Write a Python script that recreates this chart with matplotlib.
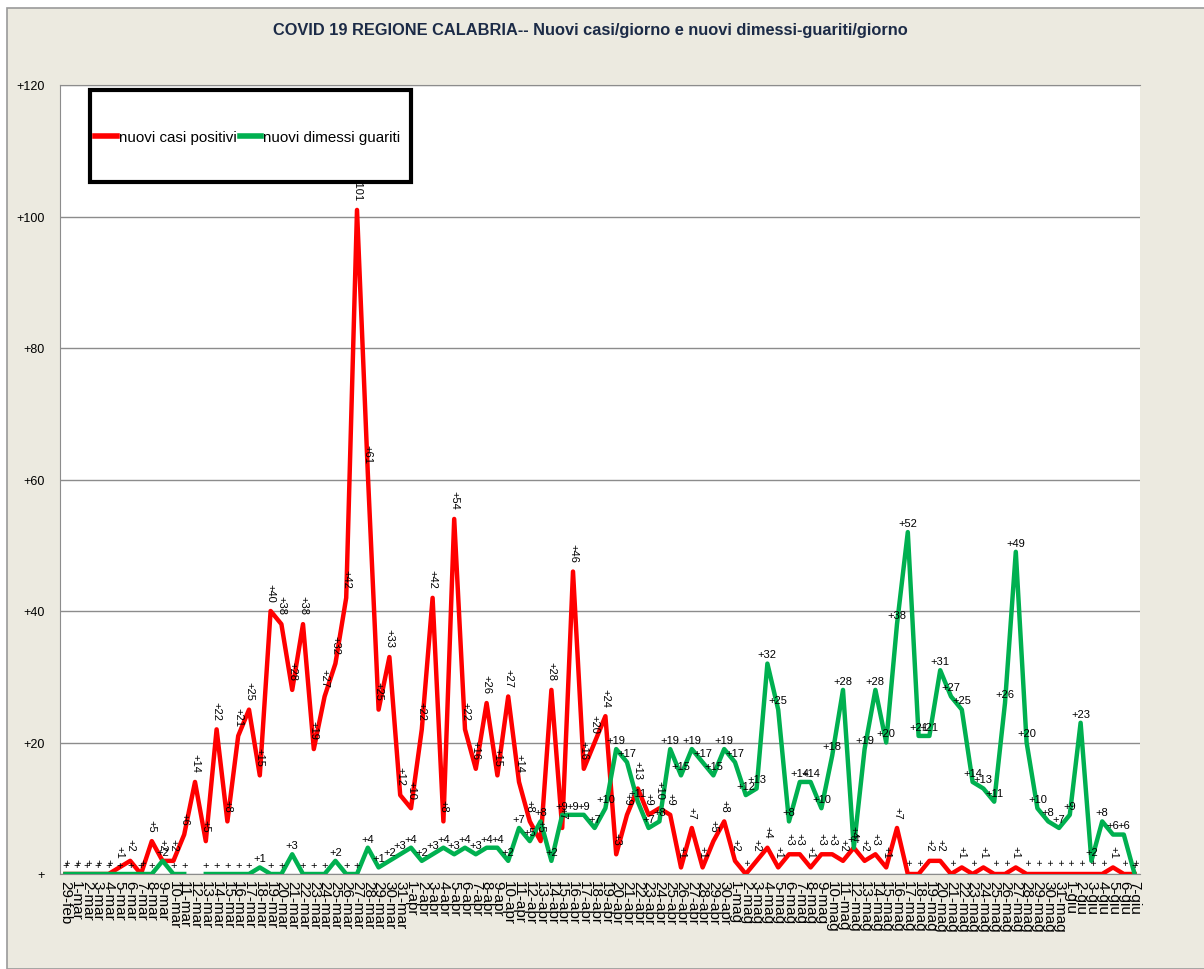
import numpy as np
import matplotlib.pyplot as plt
from matplotlib.patches import Rectangle

# date labels, 29-feb .. 7-giu
days = (["29-feb"] + ["%d-mar" % d for d in range(1, 32)]
        + ["%d-apr" % d for d in range(1, 31)]
        + ["%d-mag" % d for d in range(1, 32)]
        + ["%d-giu" % d for d in range(1, 8)])

# nuovi casi positivi
nuovi_casi = [0,
              0, 0, 0, 0, 1, 2, 0, 5, 2, 2, 6, 14, 5, 22, 8, 21, 25, 15, 40, 38,
              28, 38, 19, 27, 32, 42, 101, 61, 25, 33, 12,
              10, 22, 42, 8, 54, 22, 16, 26, 15, 27, 14, 8, 5, 28, 7, 46, 16, 20, 24,
              3, 9, 13, 9, 10, 9, 1, 7, 1, 5, 8,
              2, 0, 2, 4, 1, 3, 3, 1, 3, 3, 2, 4, 2, 3, 1, 7, 0, 0, 2, 2,
              0, 1, 0, 1, 0, 0, 1, 0, 0, 0, 0,
              0, 0, 0, 0, 1, 0, 0]

# nuovi dimessi guariti (12-mar missing)
nuovi_guariti = [0,
                 0, 0, 0, 0, 0, 0, 0, 0, 2, 0, 0, np.nan, 0, 0, 0, 0, 0, 1, 0, 0,
                 3, 0, 0, 0, 2, 0, 0, 4, 1, 2, 3,
                 4, 2, 3, 4, 3, 4, 3, 4, 4, 2, 7, 5, 8, 2, 9, 9, 9, 7, 10, 19,
                 17, 11, 7, 8, 19, 15, 19, 17, 15, 19,
                 17, 12, 13, 32, 25, 8, 14, 14, 10, 18, 28, 4, 19, 28, 20, 38, 52, 21, 21, 31,
                 27, 25, 14, 13, 11, 26, 49, 20, 10, 8, 7,
                 9, 23, 2, 8, 6, 6, 0]

y_ticks = [0, 20, 40, 60, 80, 100, 120]
y_tick_labels = ["+", "+20", "+40", "+60", "+80", "+100", "+120"]

beige = '#ECEAE0'
red = '#FF0000'
green = '#00B050'
font = 'Liberation Sans'


def lab(v):
    return "+%d" % v if v > 0 else "+"


fig = plt.figure(figsize=(12.04, 9.70), dpi=100)
fig.patch.set_facecolor('white')
fig.patches.append(Rectangle((7 / 1204, 0), 1.0, 1 - 9 / 970, transform=fig.transFigure,
                             facecolor=beige, edgecolor='#9a9a9a', linewidth=1.2, zorder=-10))

ax = fig.add_axes([60 / 1204, 95 / 970, 1080 / 1204, 789 / 970])
ax.set_facecolor('white')

x = np.arange(len(days))
ax.plot(x, nuovi_casi, color=red, lw=3.2, label='nuovi casi positivi', zorder=3)
ax.plot(x, nuovi_guariti, color=green, lw=3.2, label='nuovi dimessi guariti', zorder=4)

for i, v in enumerate(nuovi_casi):
    ax.annotate(lab(v), (i, v), xytext=(0, 7), textcoords='offset points',
                rotation=-90, ha='center', va='bottom', fontsize=8,
                family=font, zorder=5)
for i, v in enumerate(nuovi_guariti):
    if np.isnan(v):
        continue
    ax.annotate(lab(v), (i, v), xytext=(0, 3), textcoords='offset points',
                ha='center', va='bottom', fontsize=8,
                family=font, zorder=5)

ax.set_xlim(-0.5, len(days) - 0.5)
ax.set_ylim(0, 120)
ax.set_yticks(y_ticks)
ax.set_yticklabels(y_tick_labels, family=font, fontsize=9)
ax.set_xticks(x)
ax.set_xticklabels(days, rotation=-90, va='top', ha='center',
                   family=font, fontsize=11)
ax.tick_params(length=0, pad=4)
ax.tick_params(axis='y', pad=11)
ax.grid(axis='y', color='#8c8c8c', lw=1)
ax.set_axisbelow(True)
for s in ['left', 'bottom', 'top']:
    ax.spines[s].set_color('#8c8c8c')
ax.spines['right'].set_visible(False)

fig.text(0.49, 0.969, 'COVID 19 REGIONE CALABRIA-- Nuovi casi/giorno e nuovi dimessi-guariti/giorno',
         ha='center', va='center', fontsize=11.8, fontweight='bold',
         family=font, color='#1c2b47')

# legend box drawn separately, legend itself without frame
ax.add_patch(Rectangle((90 / 1204, 787 / 970), 321 / 1204, 92 / 970,
                       transform=fig.transFigure, facecolor='white',
                       edgecolor='black', linewidth=3, zorder=9, clip_on=False))
leg = ax.legend(loc='center left', bbox_to_anchor=(95 / 1204, 832 / 970),
                bbox_transform=fig.transFigure, ncol=2, frameon=False,
                handlelength=1.45, handletextpad=0.12, columnspacing=0.2,
                borderpad=0, borderaxespad=0,
                prop={'family': font, 'size': 10.9})
for h in leg.get_lines():
    h.set_linewidth(4)
leg.set_zorder(10)

fig.savefig('out.png', dpi=100)
